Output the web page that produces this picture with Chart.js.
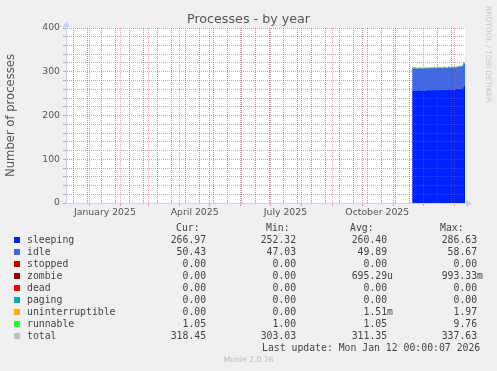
<!DOCTYPE html>
<html>
<head>
<meta charset="utf-8">
<script src="https://cdn.jsdelivr.net/npm/chart.js@4/dist/chart.umd.min.js"></script>
<style>
  body { margin: 0; width: 497px; height: 371px; background: #f0f0f0; position: relative; overflow: hidden; font-family: 'DejaVu Sans', sans-serif; }
  #chart { position: absolute; left: 0; top: 0; }
  #title { position: absolute; left: 0; top: 11px; width: 497px; text-align: center; font-size: 12.7px; line-height: 15px; color: #555; }
  #credit { position: absolute; left: 484px; top: 6px; writing-mode: vertical-rl; font-size: 7.5px; line-height: 9px; color: #c8c8c8; white-space: nowrap; }
  .cell { position: absolute; white-space: pre; font-family: 'DejaVu Sans Mono', monospace; font-size: 9.8px; line-height: 12px; color: #444; }
  .swatch { position: absolute; width: 6px; height: 6px; }
  #munin { position: absolute; left: 0; top: 355px; width: 497px; text-align: center; font-size: 7.6px; line-height: 10px; color: #bbb; }
</style>
</head>
<body>
<canvas id="chart" width="497" height="371"></canvas>
<div id="title">Processes - by year</div>
<div id="credit">RRDTOOL / TOBI OETIKER</div>
<div id="legend"></div>
<div id="munin">Munin 2.0.76</div>
<script>
// days counted from 1 January 2025; the graph covers 400 days up to 12 January 2026
const firstDay = -24;
const lastDay = 376;
const dataStartDay = 323;

const sleeping = [258, 257, 258, 258, 257, 257, 258, 258, 257, 258,
                  257, 258, 258, 257, 258, 258, 259, 258, 258, 258,
                  259, 258, 258, 259, 258, 259, 259, 258, 259, 259,
                  259, 258, 259, 260, 259, 259, 260, 260, 259, 260,
                  260, 260, 259, 260, 261, 260, 261, 261, 262, 261,
                  262, 263, 272, 267];
const idle = [50, 51, 50, 50, 51, 50, 49, 50, 51, 50,
              50, 49, 50, 51, 50, 50, 49, 50, 51, 50,
              50, 50, 51, 50, 49, 50, 50, 51, 50, 50,
              49, 50, 51, 50, 50, 49, 50, 51, 50, 49,
              50, 50, 51, 50, 49, 50, 50, 51, 50, 50,
              51, 50, 49, 50];
const runnable = [1.0, 1.1, 2.5, 1.0, 1.0, 1.0, 1.1, 1.0, 1.0, 1.0,
                  1.0, 1.0, 1.1, 1.0, 1.0, 1.0, 1.0, 1.0, 1.0, 1.1,
                  1.0, 1.0, 1.0, 1.0, 2.2, 1.0, 1.0, 1.0, 1.0, 1.1,
                  1.0, 2.4, 1.0, 1.0, 1.0, 1.0, 1.0, 1.0, 1.1, 1.0,
                  1.0, 1.0, 1.0, 1.0, 1.0, 2.0, 1.0, 1.0, 1.0, 1.0,
                  1.1, 1.0, 1.0, 1.05];
const total = [309, 309.1, 310.5, 309, 309, 308, 308.1, 309, 309, 309,
               308, 308, 309.1, 309, 309, 309, 309, 309, 310, 309.1,
               310, 309, 310, 310, 309.2, 310, 310, 310, 310, 310.1,
               309, 310.4, 311, 311, 310, 309, 311, 312, 310.1, 310,
               311, 311, 311, 311, 311, 312, 312, 313, 313, 312,
               314.1, 314, 322, 318.05];

// x axis: month starts (red), fortnightly lines (grey), labels mid-month
const monthStarts = [0, 31, 59, 90, 120, 151, 181, 212, 243, 273, 304, 334, 365];
const fortnights = [-16, -2, 12, 26, 40, 54, 68, 82, 96, 110, 124, 138, 152, 166, 180, 194,
                    208, 222, 236, 250, 264, 278, 292, 306, 320, 348, 362];
const xLabelDays = [15, 105, 196, 288];
const xLabels = ['January 2025', 'April 2025', 'July 2025', 'October 2025'];

// legend table
const legendNames = ['sleeping', 'idle', 'stopped', 'zombie', 'dead', 'paging', 'uninterruptible', 'runnable', 'total'];
const legendColors = ['#0022ff', '#4169e1', '#cc0000', '#990000', '#ff0000', '#00aaaa', '#ffaa00', '#22ff22', '#c0c0c0'];
const curValues = ['266.97 ', '50.43 ', '0.00 ', '0.00 ', '0.00 ', '0.00 ', '0.00 ', '1.05 ', '318.45 '];
const minValues = ['252.32 ', '47.03 ', '0.00 ', '0.00 ', '0.00 ', '0.00 ', '0.00 ', '1.00 ', '303.03 '];
const avgValues = ['260.40 ', '49.89 ', '0.00 ', '695.29u', '0.00 ', '0.00 ', '1.51m', '1.05 ', '311.35 '];
const maxValues = ['286.63 ', '58.67 ', '0.00 ', '993.33m', '0.00 ', '0.00 ', '1.97 ', '9.76 ', '337.63 '];
const lastUpdate = 'Last update: Mon Jan 12 00:00:07 2026';

const axisColor = '#c8d0fa';
const minorGrid = 'rgba(110,110,110,0.5)';
const minorGridX = 'rgba(90,90,90,0.6)';
const majorGrid = 'rgba(215,60,60,0.5)';

const toPoints = values => values.map((v, i) => ({ x: dataStartDay + i, y: v }));

const xTicks = [...monthStarts, ...fortnights, ...xLabelDays].sort((a, b) => a - b);

const plotFrame = {
    id: 'plotFrame',
    beforeDraw(chart) {
        const { ctx, chartArea: a } = chart;
        ctx.save();
        ctx.fillStyle = '#ffffff';
        ctx.fillRect(a.left, a.top, a.right - a.left, a.bottom - a.top);
        ctx.restore();
    },
    afterDraw(chart) {
        // little arrow heads on the two axes
        const { ctx, chartArea: a } = chart;
        ctx.save();
        ctx.fillStyle = axisColor;
        ctx.beginPath();
        ctx.moveTo(a.left - 3, a.top - 1);
        ctx.lineTo(a.left + 3.5, a.top - 1);
        ctx.lineTo(a.left + 0.5, a.top - 7);
        ctx.closePath();
        ctx.fill();
        ctx.beginPath();
        ctx.moveTo(a.right + 1, a.bottom - 3);
        ctx.lineTo(a.right + 1, a.bottom + 4);
        ctx.lineTo(a.right + 7, a.bottom + 0.5);
        ctx.closePath();
        ctx.fill();
        ctx.restore();
    }
};

const xGridColor = ctx => {
    const v = ctx.tick && ctx.tick.value;
    if (monthStarts.includes(v)) return majorGrid;
    if (fortnights.includes(v)) return minorGridX;
    return 'rgba(0,0,0,0)';
};

new Chart(document.getElementById('chart'), {
    type: 'line',
    data: {
        datasets: [
            { label: 'sleeping', data: toPoints(sleeping), backgroundColor: '#0022ff', borderWidth: 0, fill: 'origin' },
            { label: 'idle', data: toPoints(idle), backgroundColor: '#4169e1', borderWidth: 0, fill: '-1' },
            { label: 'runnable', data: toPoints(runnable), backgroundColor: '#22ff22', borderWidth: 0, fill: '-1' },
            { label: 'total', data: toPoints(total), stack: 'total', borderColor: 'rgba(180,180,180,0.8)', borderWidth: 1, fill: false }
        ]
    },
    options: {
        responsive: false,
        animation: false,
        layout: { padding: { left: 0, top: 28, right: 32, bottom: 148 } },
        elements: { point: { radius: 0 }, line: { tension: 0 } },
        plugins: { legend: { display: false }, tooltip: { enabled: false } },
        scales: {
            x: {
                type: 'linear',
                min: firstDay,
                max: lastDay,
                afterBuildTicks: scale => { scale.ticks = xTicks.map(v => ({ value: v })); },
                afterFit: scale => { scale.height = 20; },
                ticks: {
                    autoSkip: false,
                    maxRotation: 0,
                    padding: 1,
                    color: '#555',
                    font: { family: 'DejaVu Sans', size: 9.3 },
                    callback: v => {
                        const i = xLabelDays.indexOf(v);
                        return i >= 0 ? xLabels[i] : '';
                    }
                },
                grid: {
                    z: 1,
                    color: xGridColor,
                    tickColor: ctx => monthStarts.includes(ctx.tick && ctx.tick.value) ? majorGrid : 'rgba(0,0,0,0)',
                    tickLength: 3
                },
                border: { display: true, color: axisColor, z: 2, dash: [1, 1] }
            },
            y: {
                stacked: true,
                min: 0,
                max: 400,
                afterFit: scale => { scale.width = 66; },
                ticks: {
                    stepSize: 20,
                    autoSkip: false,
                    padding: 3,
                    color: '#555',
                    font: { family: 'DejaVu Sans', size: 9.3 },
                    callback: v => (v % 100 === 0 ? v : '')
                },
                title: {
                    display: true,
                    text: 'Number of processes',
                    color: '#555',
                    font: { family: 'DejaVu Sans', size: 11.6 },
                    padding: { top: 4, bottom: 0 }
                },
                grid: {
                    z: 1,
                    color: ctx => (ctx.tick && ctx.tick.value % 100 === 0 ? majorGrid : minorGrid),
                    tickColor: minorGrid,
                    tickLength: 3
                },
                border: { display: true, color: axisColor, z: 2, dash: [1, 1] }
            }
        }
    },
    plugins: [plotFrame]
});

// legend below the plot, laid out like the rrdtool one
const legend = document.getElementById('legend');
const addCell = (text, top, left, rightEdge) => {
    const el = document.createElement('div');
    el.className = 'cell';
    el.textContent = text;
    el.style.top = top + 'px';
    if (rightEdge !== undefined) el.style.right = (497 - rightEdge) + 'px';
    else el.style.left = left + 'px';
    legend.appendChild(el);
};

const headerTop = 222;
addCell('Cur:', headerTop, 176);
addCell('Min:', headerTop, 266);
addCell('Avg:', headerTop, 350);
addCell('Max:', headerTop, 440);

legendNames.forEach((name, i) => {
    const top = headerTop + 12 * (i + 1);
    const sw = document.createElement('div');
    sw.className = 'swatch';
    sw.style.background = legendColors[i];
    sw.style.left = '14px';
    sw.style.top = (top + 3) + 'px';
    legend.appendChild(sw);
    addCell(name, top, 27);
    addCell(curValues[i], top, 0, 212);
    addCell(minValues[i], top, 0, 302);
    addCell(avgValues[i], top, 0, 393);
    addCell(maxValues[i], top, 0, 483);
});
addCell(lastUpdate, headerTop + 12 * 10, 262);
</script>
</body>
</html>
